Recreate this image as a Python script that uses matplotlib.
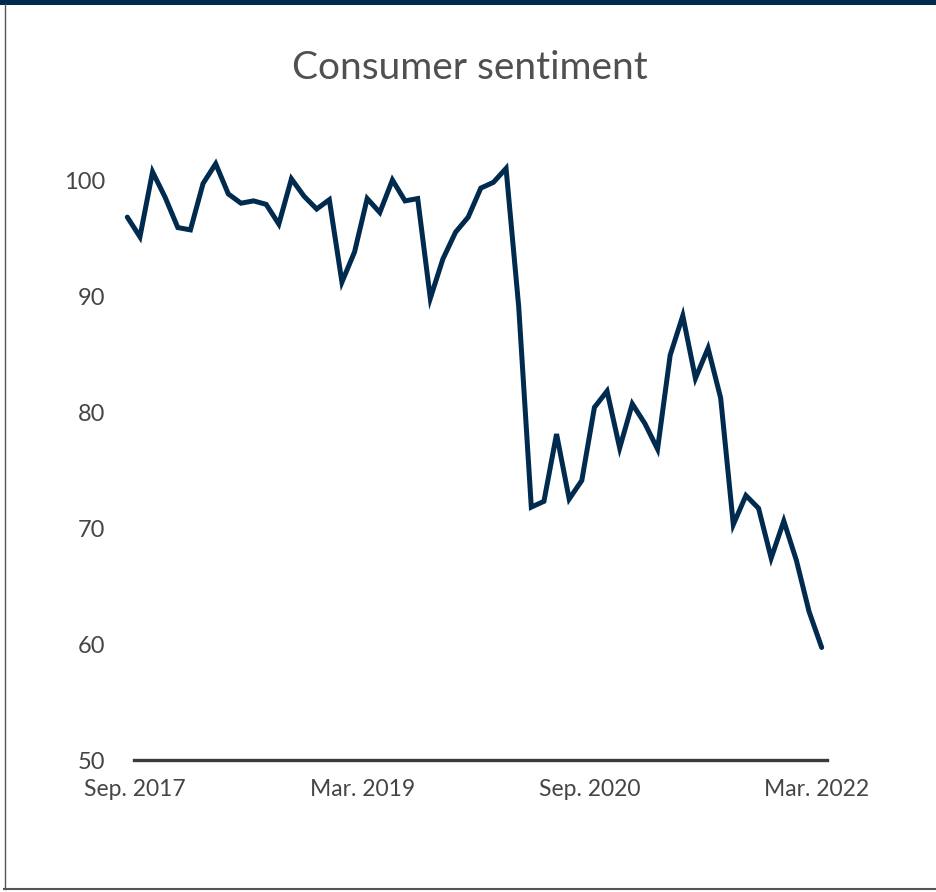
import matplotlib
matplotlib.use('Agg')
import matplotlib.pyplot as plt
import matplotlib.transforms as mtransforms
from matplotlib.lines import Line2D
from matplotlib.patches import Rectangle

# Monthly consumer sentiment index, Aug. 2017 - Mar. 2022
values = [
    96.8, 95.1, 100.7, 98.5, 95.9,                                   # 2017 Aug-Dec
    95.7, 99.7, 101.4, 98.8, 98.0, 98.2, 97.9, 96.2, 100.1, 98.6, 97.5, 98.3,  # 2018
    91.2, 93.8, 98.4, 97.2, 100.0, 98.2, 98.4, 89.8, 93.2, 95.5, 96.8, 99.3,   # 2019
    99.8, 101.0, 89.1, 71.8, 72.3, 78.1, 72.5, 74.1, 80.4, 81.8, 76.9, 80.7,   # 2020
    79.0, 76.8, 84.9, 88.3, 82.9, 85.5, 81.2, 70.3, 72.8, 71.7, 67.4, 70.6,    # 2021
    67.2, 62.8, 59.7,                                                # 2022 Jan-Mar
]
tick_idx = [1, 19, 37, 55]
tick_labels = ['Sep. 2017', 'Mar. 2019', 'Sep. 2020', 'Mar. 2022']
y_ticks = [50, 60, 70, 80, 90, 100]

navy = '#002a4e'
text_gray = '#454545'

plt.rcParams['font.family'] = ['Lato', 'DejaVu Sans']

W, H = 937, 892
fig = plt.figure(figsize=(W / 100, H / 100), dpi=100)

# axes placed so that index 0 sits at x=127 px and y=50 at 760 px
ax = fig.add_axes([121 / W, (H - 760) / H, 713.3 / W, 614.8 / H])
x = list(range(len(values)))
ax.plot(x, values, color=navy, linewidth=3.6, solid_joinstyle='miter',
        solid_capstyle='round', clip_on=False)

ax.set_xlim(-0.5, 56)
ax.set_ylim(50, 103)

for side in ['top', 'right', 'left']:
    ax.spines[side].set_visible(False)
ax.spines['bottom'].set_color('#3a3a3a')
ax.spines['bottom'].set_linewidth(2.4)
ax.spines['bottom'].set_bounds(0.53, 55.4)

ax.set_yticks(y_ticks)
ax.set_xticks(tick_idx)
ax.set_xticklabels(tick_labels)
ax.tick_params(axis='both', length=0, labelcolor=text_gray)
ax.tick_params(axis='y', pad=11.5, labelsize=17)
ax.tick_params(axis='x', pad=14, labelsize=16.5)

shift = mtransforms.ScaledTranslation(-5 / 100, 0, fig.dpi_scale_trans)
for lab in ax.get_xticklabels():
    lab.set_transform(lab.get_transform() + shift)

fig.text(470 / W, 1 - 68 / H, 'Consumer sentiment', ha='center', va='center',
         fontsize=28, fontweight='normal', color='#505050')

# card frame: navy top band, grey left and bottom rules
fig.add_artist(Rectangle((0, 1 - 4.5 / H), 1, 4.5 / H, transform=fig.transFigure,
                         facecolor=navy, edgecolor='none'))
fig.add_artist(Line2D([4.5 / W, 4.5 / W], [1 - 4 / H, 1 - 889 / H],
                      transform=fig.transFigure, color='#555555', linewidth=1.0))
fig.add_artist(Line2D([4 / W, 1], [1 - 889 / H, 1 - 889 / H],
                      transform=fig.transFigure, color='#555555', linewidth=1.5))

fig.savefig('out.png', dpi=100)
